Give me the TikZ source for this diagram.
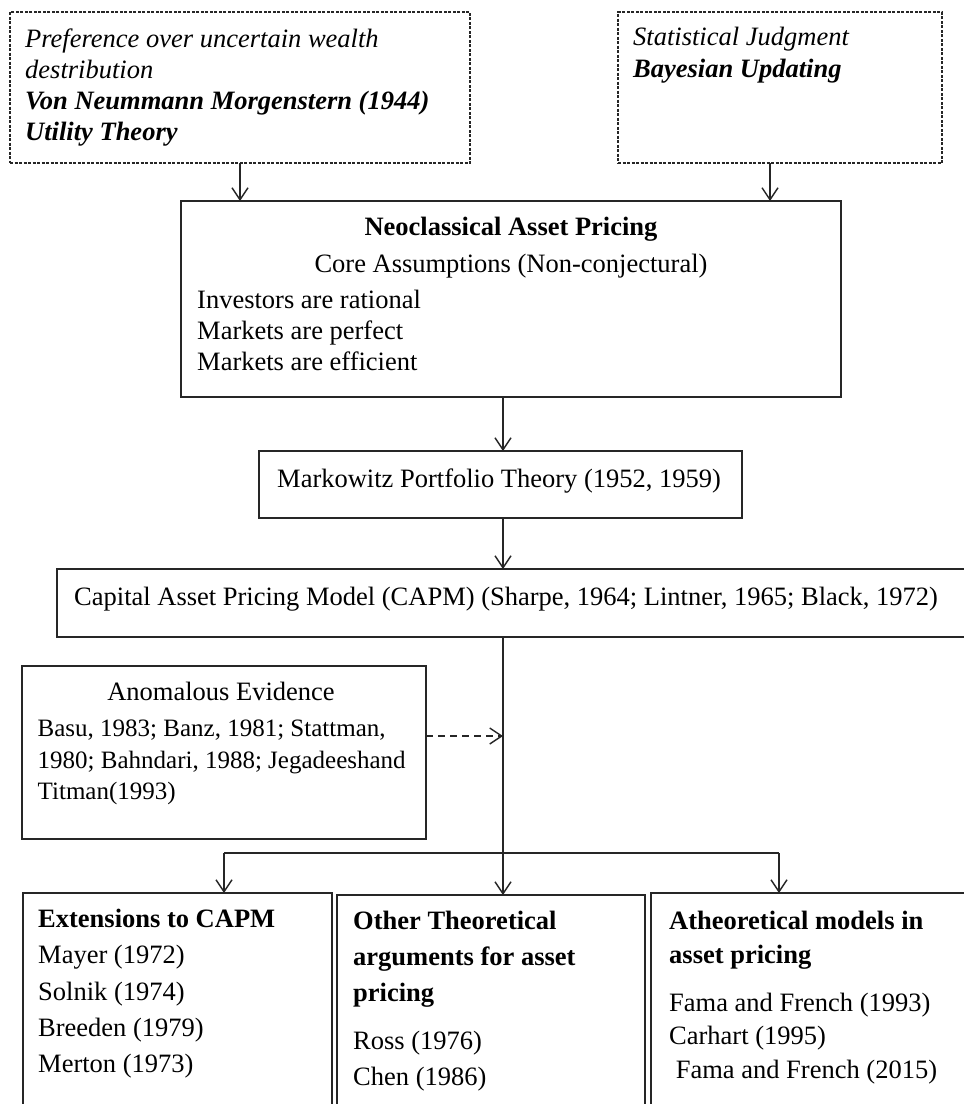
\documentclass[tikz,border=0pt]{standalone}
\usepackage{fontspec}
\setmainfont{Liberation Serif}
\usetikzlibrary{arrows.meta, positioning}

\tikzset{
	box/.style={draw=black!85, line width=1.8pt, inner sep=0pt, outer sep=0pt},
	dbox/.style={box, dash pattern=on 3pt off 1.5pt},
	txt/.style={inner sep=0pt, align=left, font=\fontsize{26.5}{31}\selectfont},
	line/.style={draw=black!85, line width=1.4pt},
	arr/.style={line, -{Straight Barb[length=12pt,width=16pt]}}
}

\begin{document}
\begin{tikzpicture}[x=1pt,y=-1pt]
	\useasboundingbox (0,0) rectangle (964,1104);
	\clip (0,0) rectangle (964,1104);

	% boxes
	\node[dbox, minimum width=460pt, minimum height=151pt] (util) at (240,87.5) {};
	\node[dbox, minimum width=324pt, minimum height=151pt] (bayes) at (780,87.5) {};
	\node[box, minimum width=660pt, minimum height=196pt] (neo) at (511,299) {};
	\node[box, minimum width=483pt, minimum height=67pt] (marko) at (500.5,484.5) {};
	\node[box, minimum width=918pt, minimum height=68pt] (capm) at (516,603) {};
	\node[box, minimum width=404pt, minimum height=173pt] (anom) at (224,752.5) {};
	\node[box, minimum width=309pt, minimum height=257pt] (ext) at (177.5,1021.5) {};
	\node[box, minimum width=308pt, minimum height=255pt] (other) at (491,1022.5) {};
	\node[box, minimum width=324pt, minimum height=257pt] (athe) at (813,1021.5) {};

	% texts
	\node[txt, anchor=north west] (utiltext) at ([shift={(15,17)}]util.north west)
		{\textit{Preference over uncertain wealth}\\ \textit{destribution}\\
		 \textbf{\textit{Von Neummann Morgenstern (1944)}}\\ \textbf{\textit{Utility Theory}}};
	\node[txt, anchor=north west, font=\fontsize{26.5}{32}\selectfont] (bayestext) at ([shift={(15,15)}]bayes.north west)
		{\textit{Statistical Judgment}\\ \textbf{\textit{Bayesian Updating}}};
	\node[txt, anchor=north, align=center, font=\fontsize{26.5}{37}\selectfont] (neotitle) at ([shift={(0,16)}]neo.north)
		{\textbf{Neoclassical Asset Pricing}\\ Core Assumptions (Non-conjectural)};
	\node[txt, anchor=north west] (neolist) at ([shift={(16,89)}]neo.north west)
		{Investors are rational\\ Markets are perfect\\ Markets are efficient};
	\node[txt, anchor=base west] (markotext) at ([shift={(18,2.5)}]marko.west)
		{Markowitz Portfolio Theory (1952, 1959)};
	\node[txt, anchor=base west] (capmtext) at ([shift={(17,2)}]capm.west)
		{Capital Asset Pricing Model (CAPM) (Sharpe, 1964; Lintner, 1965; Black, 1972)};
	\node[txt, anchor=base] (anomtitle) at ([shift={(-3,34)}]anom.north)
		{Anomalous Evidence};
	\node[txt, anchor=north west, font=\fontsize{25}{31.5}\selectfont] (anomtext) at ([shift={(15.5,54)}]anom.north west)
		{Basu, 1983; Banz, 1981; Stattman,\\ 1980; Bahndari, 1988; Jegadeeshand\\ Titman(1993)};
	\node[txt, anchor=north west, font=\fontsize{26.5}{36.3}\selectfont] (exttext) at ([shift={(15,16)}]ext.north west)
		{\textbf{Extensions to CAPM}\\ Mayer (1972)\\ Solnik (1974)\\ Breeden (1979)\\ Merton (1973)};
	\node[txt, anchor=north west, font=\fontsize{26.5}{36}\selectfont] (othertext) at ([shift={(16,16)}]other.north west)
		{\textbf{Other Theoretical}\\ \textbf{arguments for asset}\\ \textbf{pricing}\\[12pt]
		 Ross (1976)\\ Chen (1986)};
	\node[txt, anchor=north west, font=\fontsize{26.5}{33.5}\selectfont] (athetext) at ([shift={(18,18)}]athe.north west)
		{\textbf{Atheoretical models in}\\ \textbf{asset pricing}\\[14.5pt]
		 Fama and French (1993)\\ Carhart (1995)\\ \ Fama and French (2015)};

	% connectors
	\coordinate (spine) at (503,853);
	\coordinate (lfork) at (224,853);
	\coordinate (rfork) at (779,853);
	\coordinate (anomout) at ([yshift=16.5pt]anom.east);
	\draw[arr] (util.south) -- (util.south |- neo.north);
	\draw[arr] ([xshift=-10pt]bayes.south) -- ([xshift=-10pt]bayes.south |- neo.north);
	\draw[arr] (spine |- neo.south) -- (spine |- marko.north);
	\draw[arr] (spine |- marko.south) -- (spine |- capm.north);
	\draw[line] (spine |- capm.south) -- (spine);
	\draw[line] (lfork) -- (rfork);
	\draw[arr] (lfork) -- (lfork |- ext.north);
	\draw[arr] (spine) -- (spine |- other.north);
	\draw[arr] (rfork) -- (rfork |- athe.north);
	\draw[arr, dash pattern=on 7pt off 5pt] (anomout) -- (spine |- anomout);
\end{tikzpicture}
\end{document}
